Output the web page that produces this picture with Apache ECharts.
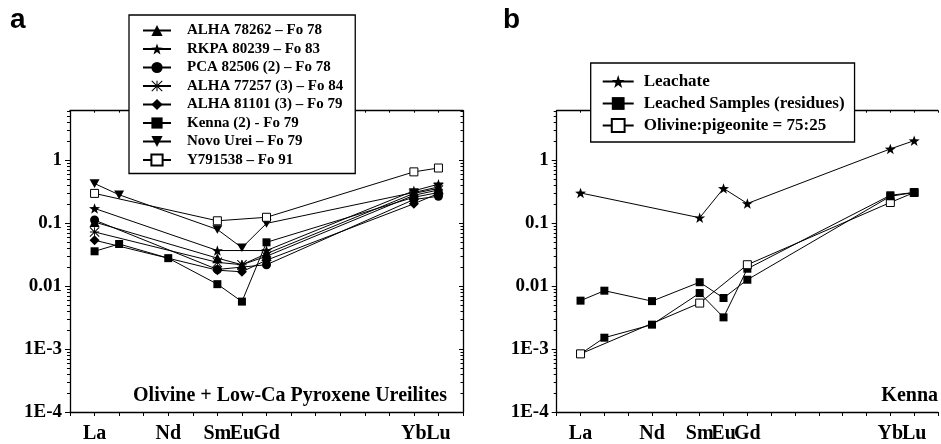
<!DOCTYPE html>
<html><head><meta charset="utf-8">
<script src="https://cdn.jsdelivr.net/npm/echarts@6/dist/echarts.min.js"></script>
<style>html,body{margin:0;padding:0;background:#fff;} #c{width:941px;height:444px;}</style>
</head><body><div id="c"></div>
<script>
// ---- categories / tick labels ----
const elements = ['La','Ce','Pr','Nd','Pm','Sm','Eu','Gd','Tb','Dy','Ho','Er','Tm','Yb','Lu'];
const shownElements = ['La','Nd','Sm','Eu','Gd','Yb','Lu'];
const yTickValues = [0.0001, 0.001, 0.01, 0.1, 1];
const yTickLabels = ['1E-4', '1E-3', '0.01', '0.1', '1'];
const yMinorValues = [0.0002,0.0003,0.0004,0.0005,0.0006,0.0007,0.0008,0.0009,
  0.002,0.003,0.004,0.005,0.006,0.007,0.008,0.009,
  0.02,0.03,0.04,0.05,0.06,0.07,0.08,0.09,
  0.2,0.3,0.4,0.5,0.6,0.7,0.8,0.9, 2,3,4,5,6];

// ---- panel a: values by element (null = not measured) ----
//                La     Ce    Pr    Nd    Pm    Sm      Eu      Gd     Tb    Dy    Ho    Er    Tm    Yb    Lu
const alha78262 = [0.105, null, null, null, null, 0.028,  0.022,  0.033, null, null, null, null, null, 0.30, 0.36];
const rkpa80239 = [0.173, null, null, null, null, 0.037,  null,   0.037, null, null, null, null, null, 0.33, 0.42];
const pca82506  = [0.113, null, null, null, null, 0.0185, null,   0.022, null, null, null, null, null, 0.24, 0.27];
const alha77257 = [0.073, null, null, null, null, 0.024,  0.022,  0.030, null, null, null, null, null, 0.28, 0.34];
const alha81101 = [0.054, null, null, null, null, 0.018,  0.017,  0.026, null, null, null, null, null, 0.205,0.30];
const kenna     = [0.036, 0.047,null, 0.028,null, 0.0108, 0.0057, 0.050, null, null, null, null, null, 0.26, 0.31];
const novoUrei  = [0.43,  0.285,null, null, null, 0.080,  0.041,  0.10,  null, null, null, null, null, 0.31, 0.38];
const y791538   = [0.30,  null, null, null, null, 0.11,   null,   0.125, null, null, null, null, null, 0.66, 0.76];

// ---- panel b ----
const leachate  = [0.305, null, null, null, null, 0.123,  0.36,   0.207, null, null, null, null, null, 1.53, 2.07];
const leachedB  = [0.00084,0.00152,null,0.00245,null,0.0078,0.0032,0.019, null, null, null, null, null, 0.28, 0.31];
const olPig     = [0.00084,null, null, null, null, 0.0054, null,   0.022, null, null, null, null, null, 0.215,0.31];
const leachedA  = [0.0059, 0.0085,null,0.0058,null,0.0116, 0.0065, 0.0127,null, null, null, null, null, 0.27, 0.31];

const leftNames = ['ALHA 78262 – Fo 78','RKPA 80239 – Fo 83','PCA 82506 (2) – Fo 78','ALHA 77257 (3) – Fo 84',
  'ALHA 81101 (3) – Fo 79','Kenna (2) - Fo 79','Novo Urei – Fo 79','Y791538 – Fo 91'];
const rightNames = ['Leachate','Leached Samples (residues)','Olivine:pigeonite = 75:25'];

// ---- symbols ----
const STAR = 'path://M50,0 L61.76,33.82 L97.55,34.55 L69.02,56.18 L79.39,90.45 L50,70 L20.61,90.45 L30.98,56.18 L2.45,34.55 L38.24,33.82 Z';
const INVTRI = 'path://M0,0 L100,0 L50,87 Z';
const ASTER = 'path://M45,0 L55,0 L55,100 L45,100 Z M0,45 L100,45 L100,55 L0,55 Z M3.5,-3.5 L103.5,96.5 L96.5,103.5 L-3.5,3.5 Z M96.5,-3.5 L103.5,3.5 L3.5,103.5 L-3.5,96.5 Z';

function pts(arr){ const out=[]; arr.forEach((v,i)=>{ if(v!==null) out.push([i,v]); }); return out; }

const serif = 'Liberation Serif';
const xFmt = v => { const i = Math.round(v); return (i>=0 && i<elements.length && shownElements.includes(elements[i])) ? elements[i] : ''; };
const yFmt = v => { const k = yTickValues.findIndex(t => Math.abs(Math.log10(v) - Math.log10(t)) < 1e-6); return k>=0 ? yTickLabels[k] : ''; };

function xAxes(grid){
  return [
    {type:'value', gridIndex:grid, min:-1, max:15, interval:1, position:'bottom',
     axisLine:{show:true, onZero:false, lineStyle:{color:'#000', width:1.3}},
     axisTick:{show:true, inside:false, length:4, lineStyle:{color:'#000'}},
     axisLabel:{show:true, formatter:xFmt, margin:12, color:'#000', fontFamily:serif, fontWeight:'bold', fontSize:20, showMinLabel:true, showMaxLabel:true},
     splitLine:{show:false}},
    {type:'value', gridIndex:grid, min:-1, max:15, interval:1, position:'top',
     axisLine:{show:true, onZero:false, lineStyle:{color:'#000', width:1.3}},
     axisTick:{show:true, inside:true, length:2, lineStyle:{color:'#000'}},
     axisLabel:{show:false}, splitLine:{show:false}}
  ];
}
function yAxes(grid, withRight){
  const a = [
    {type:'log', gridIndex:grid, min:0.0001, max:6.2, logBase:10, position:'left',
     axisLine:{show:true, onZero:false, lineStyle:{color:'#000', width:1.3}},
     axisTick:{show:true, inside:false, length:5, lineStyle:{color:'#000'}},
     axisLabel:{show:true, formatter:yFmt, margin:8, color:'#000', fontFamily:serif, fontWeight:'bold', fontSize:19, showMaxLabel:false},
     splitLine:{show:false}},
    {type:'log', gridIndex:grid, min:0.0001, max:6.2, logBase:10, position:'left',
     axisLine:{show:false, onZero:false},
     axisTick:{show:true, inside:false, length:3, customValues:yMinorValues, lineStyle:{color:'#000'}},
     axisLabel:{show:false}, splitLine:{show:false}}
  ];
  if(withRight){
    a.push({type:'log', gridIndex:grid, min:0.0001, max:6.2, logBase:10, position:'right',
     axisLine:{show:true, onZero:false, lineStyle:{color:'#000', width:1.3}},
     axisTick:{show:true, inside:true, length:4, lineStyle:{color:'#000'}},
     axisLabel:{show:false}, splitLine:{show:false}});
    a.push({type:'log', gridIndex:grid, min:0.0001, max:6.2, logBase:10, position:'right',
     axisLine:{show:false, onZero:false},
     axisTick:{show:true, inside:true, length:2.5, customValues:yMinorValues, lineStyle:{color:'#000'}},
     axisLabel:{show:false}, splitLine:{show:false}});
  }
  return a;
}

function ser(name, arr, xi, yi, symbol, size, open){
  return {type:'line', name, xAxisIndex:xi, yAxisIndex:yi, data:pts(arr), symbol, symbolSize:size, symbolKeepAspect:true,
    showAllSymbol:true, animation:false, silent:true,
    lineStyle:{color:'#000', width:1},
    itemStyle: open ? {color:'#fff', borderColor:'#000', borderWidth:1} : {color:'#000', borderWidth:0}};
}

const legendCommon = {orient:'vertical', borderColor:'#000', borderWidth:1.3, backgroundColor:'#fff',
  selectedMode:false, z:10};

const option = {
  animation:false,
  backgroundColor:'#fff',
  grid:[
    {left:70, right:478, top:110.7, bottom:30},
    {left:556.7, right:-10, top:110.7, bottom:30}
  ],
  xAxis:[...xAxes(0), ...xAxes(1)],
  yAxis:[...yAxes(0,true), ...yAxes(1,false)],
  legend:[
    Object.assign({}, legendCommon, {data:leftNames, left:129, top:15, padding:[8,12,6,13],
      itemWidth:28, itemHeight:14, itemGap:3.5,
      textStyle:{fontFamily:serif, fontWeight:'bold', fontSize:15, color:'#000', padding:[0,0,0,11]}}),
    Object.assign({}, legendCommon, {data:rightNames, left:590.7, top:63, padding:[10,10,8,11],
      itemWidth:31, itemHeight:16, itemGap:5,
      textStyle:{fontFamily:serif, fontWeight:'bold', fontSize:17, color:'#000', padding:[0,0,0,5]}})
  ],
  graphic:[
    {type:'text', x:10, y:20, style:{text:'a', font:'bold 28px "Liberation Sans"', fill:'#000', verticalAlign:'middle', textVerticalAlign:'middle'}},
    {type:'text', x:503, y:20, style:{text:'b', font:'bold 28px "Liberation Sans"', fill:'#000', verticalAlign:'middle', textVerticalAlign:'middle'}},
    {type:'text', x:447, y:396, style:{text:'Olivine + Low-Ca Pyroxene Ureilites', font:'bold 20px "Liberation Serif"', fill:'#000', align:'right', textAlign:'right', verticalAlign:'middle', textVerticalAlign:'middle'}},
    {type:'text', x:938, y:396, style:{text:'Kenna', font:'bold 20px "Liberation Serif"', fill:'#000', align:'right', textAlign:'right', verticalAlign:'middle', textVerticalAlign:'middle'}}
  ],
  series:[
    ser(leftNames[0], alha78262, 0, 0, 'triangle', 10, false),
    ser(leftNames[1], rkpa80239, 0, 0, STAR, 11, false),
    ser(leftNames[2], pca82506, 0, 0, 'circle', 9, false),
    ser(leftNames[3], alha77257, 0, 0, ASTER, 10, false),
    ser(leftNames[4], alha81101, 0, 0, 'diamond', 10, false),
    ser(leftNames[5], kenna, 0, 0, 'rect', 8, false),
    ser(leftNames[6], novoUrei, 0, 0, INVTRI, 10, false),
    ser(leftNames[7], y791538, 0, 0, 'rect', 8, true),
    ser(rightNames[0], leachate, 2, 4, STAR, 11, false),
    ser(rightNames[1], leachedB, 2, 4, 'rect', 8, false),
    ser(rightNames[2], olPig, 2, 4, 'rect', 8, true),
    ser(rightNames[1], leachedA, 2, 4, 'rect', 8, false)
  ]
};
const chart = echarts.init(document.getElementById('c'), null, {renderer:'canvas'});
chart.setOption(option);
</script></body></html>
